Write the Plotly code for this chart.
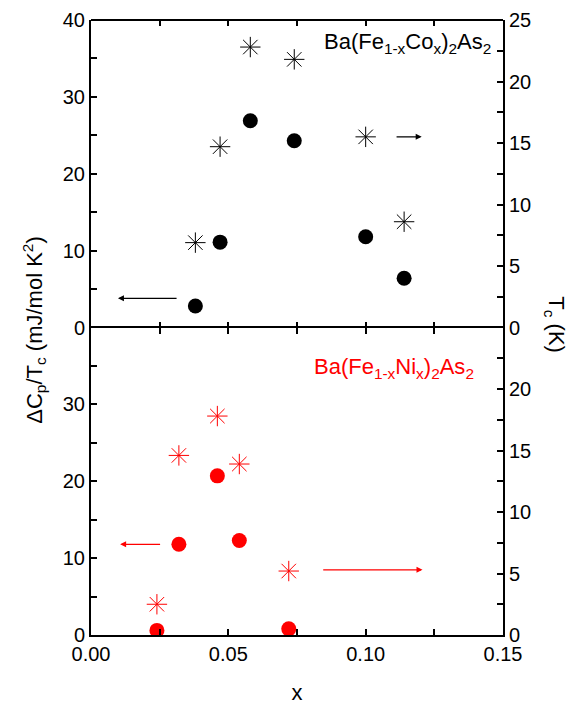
import plotly.graph_objects as go

# Ba(Fe1-xCox)2As2
co_x = [0.038, 0.047, 0.058, 0.074, 0.100, 0.114]
co_dc = [2.8, 11.1, 26.9, 24.3, 11.8, 6.4]
co_tc = [6.9, 14.7, 22.8, 21.8, 15.5, 8.6]

# Ba(Fe1-xNix)2As2
ni_x = [0.024, 0.032, 0.046, 0.054, 0.072]
ni_dc = [0.6, 11.8, 20.7, 12.3, 0.8]
ni_tc = [2.5, 14.6, 17.8, 13.9, 5.2]

red = '#ff0000'
family = 'Liberation Sans, Arial'
font = dict(family=family, size=20, color='black')
tfont = dict(family=family, size=22, color='black')

fig = go.Figure()
fig.add_trace(go.Scatter(x=co_x, y=co_dc, mode='markers', xaxis='x2', yaxis='y',
                         marker=dict(symbol='circle', size=15, color='black')))
fig.add_trace(go.Scatter(x=co_x, y=co_tc, mode='markers', xaxis='x2', yaxis='y2',
                         marker=dict(symbol='asterisk-open', size=17, color='black',
                                     line=dict(width=1, color='black'))))
fig.add_trace(go.Scatter(x=ni_x, y=ni_dc, mode='markers', xaxis='x', yaxis='y3',
                         marker=dict(symbol='circle', size=15, color=red)))
fig.add_trace(go.Scatter(x=ni_x, y=ni_tc, mode='markers', xaxis='x', yaxis='y4',
                         marker=dict(symbol='asterisk-open', size=17, color=red,
                                     line=dict(width=1, color=red))))

tick = dict(ticks='inside', ticklen=6, tickwidth=1.5, tickcolor='black', showline=True, automargin=False,
            linecolor='black', linewidth=2, showgrid=False, zeroline=False, tickfont=font)
xminor = dict(dtick=0.025, ticks='inside', ticklen=6, tickwidth=1.5, tickcolor='black')

# the page body has an 8px margin, so the margins are shifted to compensate
fig.update_layout(
    width=574, height=704, showlegend=False,
    plot_bgcolor='white', paper_bgcolor='white',
    margin=dict(l=83, r=79, t=12, b=77, autoexpand=False),
    font=font,
    xaxis=dict(tick, domain=[0, 1], anchor='y3', range=[0, 0.15], tickvals=[0, 0.05, 0.1, 0.15],
               ticktext=['0.00', '0.05', '0.10', '0.15'], mirror='ticks', minor=xminor,
               title=dict(text='x', font=tfont, standoff=21)),
    xaxis2=dict(tick, domain=[0, 1], anchor='y', range=[0, 0.15], tickvals=[0, 0.05, 0.1, 0.15],
                showticklabels=False, showline=False, mirror='ticks', minor=xminor),
    yaxis=dict(tick, domain=[0.5, 1], anchor='x2', range=[0, 40], tickvals=[0, 10, 20, 30, 40],
               minor=dict(dtick=5, ticks='inside', ticklen=6, tickwidth=1.5, tickcolor='black')),
    yaxis2=dict(tick, domain=[0.5, 1], anchor='x2', overlaying='y', side='right', range=[0, 25],
                tickvals=[0, 5, 10, 15, 20, 25],
                minor=dict(dtick=2.5, ticks='inside', ticklen=6, tickwidth=1.5, tickcolor='black')),
    yaxis3=dict(tick, domain=[0, 0.5], anchor='x', range=[0, 40], tickvals=[0, 10, 20, 30],
                minor=dict(tickvals=[5, 15, 25, 35], ticks='inside', ticklen=6, tickwidth=1.5, tickcolor='black')),
    yaxis4=dict(tick, domain=[0, 0.5], anchor='x', overlaying='y3', side='right', range=[0, 25],
                tickvals=[0, 5, 10, 15, 20],
                minor=dict(tickvals=[2.5, 7.5, 12.5, 17.5, 22.5], ticks='inside', ticklen=6,
                           tickwidth=1.5, tickcolor='black')),
)

# top border of the upper panel
fig.add_shape(type='line', xref='paper', yref='paper', x0=0, x1=1, y0=1, y1=1,
              line=dict(color='black', width=2))

# arrows pointing to the axis each series belongs to
arrows = [
    ('x2', 'y', 0.0098, 3.8, 0.0317, 3.8, 'black'),
    ('x2', 'y2', 0.1204, 15.5, 0.1107, 15.5, 'black'),
    ('x', 'y3', 0.0106, 11.8, 0.0257, 11.8, red),
    ('x', 'y4', 0.1207, 5.3, 0.084, 5.3, red),
]
for xr, yr, x, y, ax, ay, c in arrows:
    fig.add_annotation(x=x, y=y, ax=ax, ay=ay, xref=xr, yref=yr, axref=xr, ayref=yr,
                       showarrow=True, arrowhead=2, arrowsize=1, arrowwidth=1.2, arrowcolor=c, text='')

fig.add_annotation(x=0.975, y=0.962, xref='paper', yref='paper', xanchor='right', yanchor='middle',
                   showarrow=False, text='Ba(Fe<sub>1-x</sub>Co<sub>x</sub>)<sub>2</sub>As<sub>2</sub>',
                   font=dict(family=family, size=22, color='black'))
fig.add_annotation(x=0.934, y=0.434, xref='paper', yref='paper', xanchor='right', yanchor='middle',
                   showarrow=False, text='Ba(Fe<sub>1-x</sub>Ni<sub>x</sub>)<sub>2</sub>As<sub>2</sub>',
                   font=dict(family=family, size=22, color=red))

# axis titles
fig.add_annotation(x=-0.138, y=0.495, xref='paper', yref='paper', xanchor='center', yanchor='middle',
                   showarrow=False, textangle=-90,
                   text='ΔC<sub>p</sub>/T<sub>c</sub> (mJ/mol K<sup>2</sup>)', font=tfont)
fig.add_annotation(x=1.124, y=0.505, xref='paper', yref='paper', xanchor='center', yanchor='middle',
                   showarrow=False, textangle=90,
                   text='T<sub>c</sub> (K)', font=tfont)

fig.write_html("out.html")
